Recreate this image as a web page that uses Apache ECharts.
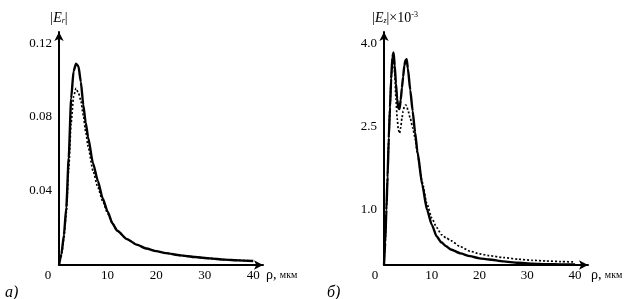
<!DOCTYPE html>
<html>
<head>
<meta charset="utf-8">
<script src="https://cdn.jsdelivr.net/npm/echarts@6.0.0/dist/echarts.min.js"></script>
<style>
  html, body { margin: 0; padding: 0; background: #fff; }
  #chart { width: 636px; height: 299px; }
</style>
</head>
<body>
<div id="chart"></div>
<script>
// панель а) |Er|
var rhoA = [0, 0.5, 1, 1.5, 2, 2.5, 3, 3.5, 4, 4.5, 5, 5.5, 6, 7, 8, 9, 10, 11, 12, 14, 16, 18, 20, 22, 25, 28, 31, 34, 37, 40];
var solidA = [0, 0.006, 0.016, 0.031, 0.058, 0.090, 0.1048, 0.1088, 0.1075, 0.099, 0.0865, 0.077, 0.069, 0.055, 0.0455, 0.036, 0.029, 0.0225, 0.0185, 0.014, 0.011, 0.0089, 0.0075, 0.0064, 0.0052, 0.0043, 0.0036, 0.0029, 0.0025, 0.0022];
var dottedA = [0, 0.005, 0.014, 0.028, 0.052, 0.077, 0.091, 0.0955, 0.093, 0.089, 0.081, 0.072, 0.064, 0.051, 0.042, 0.0345, 0.028, 0.0225, 0.0185, 0.014, 0.011, 0.0089, 0.0075, 0.0064, 0.0052, 0.0043, 0.0036, 0.0029, 0.0025, 0.0022];

// панель б) |Ez| x10^-3
var rhoB = [0, 0.25, 0.5, 0.75, 1, 1.25, 1.5, 1.75, 2, 2.25, 2.5, 2.75, 3, 3.25, 3.5, 3.75, 4, 4.25, 4.5, 4.75, 5, 5.5, 6, 6.5, 7, 8, 9, 10, 11, 12, 13, 14, 16, 18, 20, 22, 25, 28, 31, 34, 37, 40];
var solidB = [0, 0.4, 1.0, 1.6, 2.3, 2.84, 3.36, 3.75, 3.84, 3.6, 3.28, 3.0, 2.83, 2.82, 2.98, 3.2, 3.4, 3.6, 3.7, 3.72, 3.55, 3.16, 2.78, 2.4, 2.05, 1.45, 1.0, 0.73, 0.52, 0.41, 0.34, 0.28, 0.21, 0.16, 0.12, 0.10, 0.065, 0.04, 0.025, 0.015, 0.01, 0.008];
var dottedB = [0, 0.4, 1.0, 1.6, 2.3, 2.84, 3.36, 3.72, 3.78, 3.45, 3.0, 2.65, 2.45, 2.38, 2.48, 2.65, 2.78, 2.86, 2.89, 2.88, 2.8, 2.65, 2.48, 2.3, 2.0, 1.5, 1.1, 0.85, 0.68, 0.55, 0.49, 0.44, 0.33, 0.25, 0.20, 0.17, 0.135, 0.105, 0.085, 0.072, 0.062, 0.054];

var xTicks = [0, 10, 20, 30, 40];
var yTicksA = [0.04, 0.08, 0.12];
var yTicksB = [1.0, 2.5, 4.0];

function pairs(xs, ys) {
  return xs.map(function (x, i) { return [x, ys[i]]; });
}

var font = 'Liberation Serif';
var axisLineStyle = { color: '#000', width: 2 };

function xAxis(idx, max, zeroPad) {
  return {
    type: 'value', gridIndex: idx, min: 0, max: max,
    splitLine: { show: false }, axisTick: { show: false },
    axisLine: { lineStyle: axisLineStyle, symbol: ['none', 'arrow'], symbolSize: [7, 9] },
    axisLabel: {
      customValues: xTicks, margin: 4, color: '#000', fontFamily: font, fontSize: 13,
      formatter: function (v) { return v === 0 ? '{z|0}' : String(v); },
      rich: { z: { padding: [0, zeroPad, 0, 0], fontFamily: font, fontSize: 13, color: '#000' } }
    },
    name: '{r|ρ,} {m|мкм}', nameLocation: 'end', nameGap: 3,
    nameTextStyle: {
      verticalAlign: 'top', padding: [3, 0, 0, 0],
      rich: {
        r: { fontFamily: font, fontSize: 14, color: '#000' },
        m: { fontFamily: font, fontSize: 10, color: '#000' }
      }
    }
  };
}

function yAxis(idx, max, ticks, digits, name, namePad) {
  return {
    type: 'value', gridIndex: idx, min: 0, max: max,
    splitLine: { show: false }, axisTick: { show: false },
    axisLine: { lineStyle: axisLineStyle, symbol: ['none', 'arrow'], symbolSize: [7, 9] },
    axisLabel: {
      customValues: ticks, margin: 7, color: '#000', fontFamily: font, fontSize: 13,
      formatter: function (v) { return v.toFixed(digits); }
    },
    name: name, nameLocation: 'end', nameGap: 7,
    nameTextStyle: {
      align: 'center', padding: [0, 0, 0, namePad],
      rich: {
        t: { fontFamily: font, fontSize: 14, color: '#000' },
        e: { fontFamily: font, fontSize: 14, fontStyle: 'italic', color: '#000' },
        s: { fontFamily: font, fontSize: 8, fontStyle: 'italic', color: '#000', padding: [6, 0, 0, 0] },
        p: { fontFamily: font, fontSize: 8, color: '#000', padding: [0, 0, 6, 0] }
      }
    }
  };
}

function line(xi, yi, data, dotted) {
  return {
    type: 'line', xAxisIndex: xi, yAxisIndex: yi, data: data,
    showSymbol: false, smooth: 0.2, smoothMonotone: 'x', silent: true,
    lineStyle: dotted ? { color: '#000', width: 1.7, type: [2, 2] } : { color: '#000', width: 2.4 }
  };
}

var chart = echarts.init(document.getElementById('chart'), null, { renderer: 'canvas' });
chart.setOption({
  animation: false,
  backgroundColor: '#fff',
  title: [
    { text: 'а)', left: 0, top: 280, textStyle: { fontFamily: font, fontSize: 16, fontStyle: 'italic', fontWeight: 'normal', color: '#000' } },
    { text: 'б)', left: 322, top: 280, textStyle: { fontFamily: font, fontSize: 16, fontStyle: 'italic', fontWeight: 'normal', color: '#000' } }
  ],
  grid: [
    { left: 59, top: 32, width: 204, height: 233 },
    { left: 384, top: 32, width: 204, height: 233 }
  ],
  xAxis: [xAxis(0, 42, 22), xAxis(1, 42.7, 18)],
  yAxis: [
    yAxis(0, 0.126, yTicksA, 2, '{t||}{e|E}{s|r}{t||}', 0),
    yAxis(1, 4.21, yTicksB, 1, '{t||}{e|E}{s|z}{t||×10}{p|-3}', 22)
  ],
  series: [
    line(0, 0, pairs(rhoA, solidA), false),
    line(0, 0, pairs(rhoA, dottedA), true),
    line(1, 1, pairs(rhoB, solidB), false),
    line(1, 1, pairs(rhoB, dottedB), true)
  ]
});
</script>
</body>
</html>
